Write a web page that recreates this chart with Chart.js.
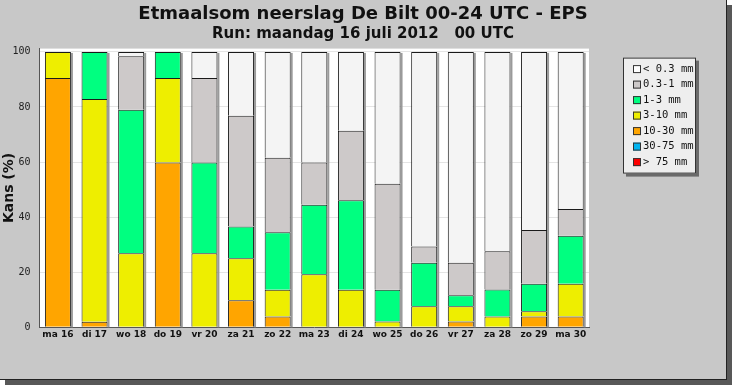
<!DOCTYPE html>
<html>
<head>
<meta charset="utf-8">
<script src="https://cdn.jsdelivr.net/npm/chart.js@4"></script>
<style>
  body { margin: 0; background: #fff; }
  .frame {
    position: absolute; left: 0; top: 0;
    width: 726px; height: 379px;
    background: #c8c8c8;
    border-right: 1px solid #222; border-bottom: 1px solid #222;
    box-shadow: 5px 5px 0 #585858;
  }
  canvas { display: block; }
</style>
</head>
<body>
<div class="frame"><canvas id="eps" width="726" height="379"></canvas></div>
<script>
// Dagen
const days = ['ma 16', 'di 17', 'wo 18', 'do 19', 'vr 20', 'za 21', 'zo 22', 'ma 23',
              'di 24', 'wo 25', 'do 26', 'vr 27', 'za 28', 'zo 29', 'ma 30'];

// Kans (%) per neerslagklasse, van onder naar boven gestapeld
const gt75    = [0, 0, 0, 0, 0, 0, 0, 0, 0, 0, 0, 0, 0, 0, 0];
const r30_75  = [0, 0, 0, 0, 0, 0, 0, 0, 0, 0, 0, 0, 0, 0, 0];
const r10_30  = [90.5, 2.0, 0, 59.8, 0, 9.8, 3.9, 0, 0, 0, 0, 2.1, 0, 3.9, 3.9];
const r3_10   = [9.5, 80.9, 26.9, 30.7, 26.9, 15.3, 9.7, 19.3, 13.6, 2.1, 7.6, 5.5, 3.9, 1.9, 11.9];
const r1_3    = [0, 17.1, 52.1, 9.5, 32.9, 11.5, 20.9, 25.2, 32.5, 11.5, 15.8, 4.0, 9.8, 10.0, 17.4];
const r03_1   = [0, 0, 19.4, 0, 30.7, 40.2, 27.1, 15.3, 25.3, 38.5, 5.9, 11.8, 13.9, 19.5, 9.8];
const lt03    = [0, 0, 1.6, 0, 9.5, 23.2, 38.4, 40.2, 28.6, 47.9, 70.7, 76.6, 72.4, 64.7, 57.0];

const yTicks = [0, 20, 40, 60, 80, 100];

const series = [
    { label: '> 75 mm',  data: gt75,   color: '#ff0000' },
    { label: '30-75 mm', data: r30_75, color: '#00b4f0' },
    { label: '10-30 mm', data: r10_30, color: '#ffa500' },
    { label: '3-10 mm',  data: r3_10,  color: '#eeee00' },
    { label: '1-3 mm',   data: r1_3,   color: '#00ff80' },
    { label: '0.3-1 mm', data: r03_1,  color: '#cdc9c9' },
    { label: '< 0.3 mm', data: lt03,   color: '#f4f4f4' }
];
const legendColors = ['#ff0000', '#00b4f0', '#ffa500', '#eeee00', '#00ff80', '#cdc9c9', '#ffffff'];

// Ruimte rechts voor de legenda (titel blijft over de volle breedte)
const rightSpace = {
    id: 'rightSpace',
    beforeInit(chart) {
        Chart.layouts.addBox(chart, {
            position: 'right',
            weight: 0,
            fullSize: false,
            options: {},
            isHorizontal: () => false,
            update(maxWidth, maxHeight) { this.width = 137; this.height = maxHeight; },
            draw() {}
        });
    }
};

// Witte plotachtergrond
const plotBackground = {
    id: 'plotBackground',
    beforeDraw(chart) {
        const { ctx, chartArea: a } = chart;
        ctx.save();
        ctx.fillStyle = '#ffffff';
        ctx.fillRect(a.left, a.top, a.right - a.left, a.bottom - a.top);
        ctx.restore();
    }
};

// Schaduw rechts van de staven
const barShadow = {
    id: 'barShadow',
    beforeDatasetsDraw(chart) {
        const ctx = chart.ctx;
        const top = chart.getDatasetMeta(chart.data.datasets.length - 1).data;
        const base = chart.scales.y.getPixelForValue(0);
        ctx.save();
        ctx.fillStyle = '#9a9a9a';
        top.forEach(el => {
            ctx.fillRect(el.x + el.width / 2, el.y + 1, 2, base - el.y - 1);
        });
        ctx.restore();
    }
};

// Legenda in een kader met schaduw
const boxLegend = {
    id: 'boxLegend',
    afterDraw(chart) {
        const { ctx, chartArea: a } = chart;
        const x = a.right + 34, y = a.top + 9, w = 73, h = 116;
        ctx.save();
        ctx.fillStyle = '#6a6a6a';
        ctx.fillRect(x + 3, y + 3, w, h);
        ctx.fillStyle = '#eeeeee';
        ctx.fillRect(x, y, w, h);
        ctx.strokeStyle = '#333';
        ctx.lineWidth = 1;
        ctx.strokeRect(x + 0.5, y + 0.5, w - 1, h - 1);
        ctx.font = '10.5px "DejaVu Sans Mono"';
        ctx.textBaseline = 'middle';
        const n = chart.data.datasets.length;
        for (let i = 0; i < n; i++) {
            const ds = chart.data.datasets[n - 1 - i];
            const cy = y + 11.5 + i * 15.5;
            ctx.fillStyle = legendColors[n - 1 - i];
            ctx.fillRect(x + 10, cy - 4, 8, 8);
            ctx.strokeStyle = '#333';
            ctx.strokeRect(x + 10.5, cy - 3.5, 7, 7);
            ctx.fillStyle = '#111';
            ctx.fillText(ds.label, x + 20, cy);
        }
        ctx.restore();
    }
};

new Chart(document.getElementById('eps'), {
    type: 'bar',
    data: {
        labels: days,
        datasets: series.map(s => ({
            label: s.label,
            data: s.data,
            backgroundColor: s.color,
            borderColor: '#1a1a1a',
            borderWidth: c => (c.raw > 0 ? 1 : 0),
            borderSkipped: 'start',
            barPercentage: 0.71,
            categoryPercentage: 1
        }))
    },
    options: {
        responsive: false,
        animation: false,
        layout: { padding: 0 },
        plugins: {
            legend: { display: false },
            tooltip: { enabled: false },
            title: {
                display: true,
                text: 'Etmaalsom neerslag De Bilt 00-24 UTC - EPS',
                color: '#111',
                font: { family: '"DejaVu Sans"', size: 18, weight: 'bold' },
                padding: { top: 4, bottom: 0 }
            },
            subtitle: {
                display: true,
                text: 'Run: maandag 16 juli 2012   00 UTC',
                color: '#111',
                font: { family: '"DejaVu Sans"', size: 15, weight: 'bold' },
                padding: { top: 0, bottom: 5 }
            }
        },
        scales: {
            x: {
                stacked: true,
                grid: { display: false, drawTicks: false },
                border: { color: '#555' },
                ticks: {
                    color: '#111',
                    padding: 2,
                    maxRotation: 0,
                    font: { family: '"DejaVu Sans"', size: 9, weight: 'bold' }
                },
                afterFit: s => { s.height = 51.7; }
            },
            y: {
                stacked: true,
                min: 0,
                max: 101.2,
                afterBuildTicks: axis => { axis.ticks = yTicks.map(v => ({ value: v })); },
                afterFit: s => { s.width = 39.6; },
                grid: { color: '#e4e4e4', drawTicks: false },
                border: { color: '#555' },
                ticks: {
                    color: '#222',
                    padding: 9,
                    font: { family: '"DejaVu Sans Mono"', size: 10 }
                },
                title: {
                    display: true,
                    text: 'Kans (%)',
                    color: '#111',
                    padding: { top: 1, bottom: 0 },
                    font: { family: '"DejaVu Sans"', size: 14, weight: 'bold' }
                }
            }
        }
    },
    plugins: [rightSpace, plotBackground, barShadow, boxLegend]
});
</script>
</body>
</html>
